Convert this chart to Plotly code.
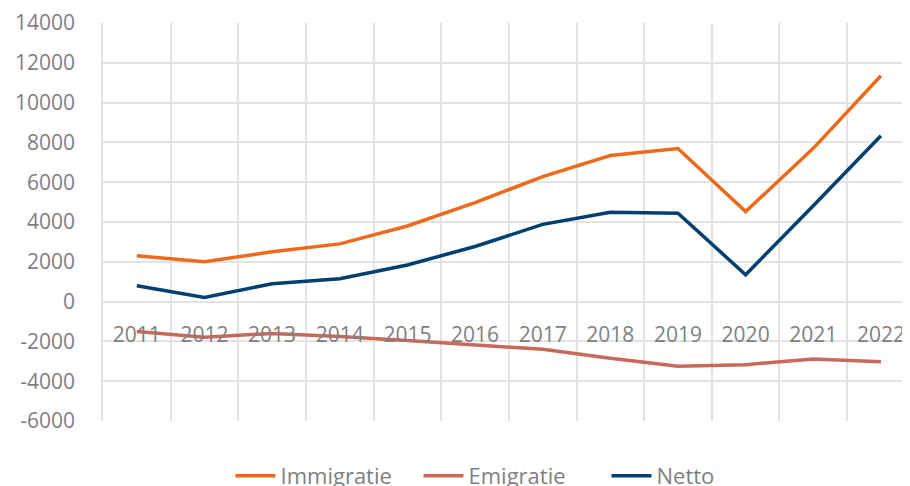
import plotly.graph_objects as go

years = ['2011', '2012', '2013', '2014', '2015', '2016',
         '2017', '2018', '2019', '2020', '2021', '2022']
immigratie = [2300, 2000, 2500, 2900, 3800, 4970, 6280, 7340, 7690, 4520, 7700, 11350]
emigratie = [-1500, -1790, -1600, -1750, -1960, -2200, -2400, -2850, -3250, -3170, -2880, -3020]
netto = [800, 210, 900, 1150, 1840, 2770, 3880, 4490, 4440, 1350, 4820, 8330]

y_ticks = [-6000, -4000, -2000, 0, 2000, 4000, 6000, 8000, 10000, 12000, 14000]
y_labels = ['-6000', '-4000', '-2000', '0', '2000', '4000', '6000', '8000', '10000', '12000', '14000']

series = [
    ('Immigratie', immigratie, '#ED6A1A'),
    ('Emigratie', emigratie, '#C8695C'),
    ('Netto', netto, '#003F6E'),
]

fig = go.Figure()
for name, vals, color in series:
    fig.add_trace(
        go.Scatter(
            x=years,
            y=vals,
            mode='lines',
            name=name,
            line=dict(color=color, width=3.5)
        )
    )

# page body adds ~8px offset, so the figure is sized to fit the window
grid = '#E3E3E3'
fig.update_layout(
    width=902,
    height=478,
    plot_bgcolor='white',
    paper_bgcolor='white',
    font=dict(family='Open Sans', color='#7F7F7F', size=20),
    margin=dict(l=95, r=0, t=15, b=65, autoexpand=False),
    showlegend=True,
    legend=dict(
        orientation='h',
        x=0.158, xanchor='left',
        y=-0.085, yanchor='top',
        font=dict(size=22, color='#7F7F7F'),
        itemwidth=40,
        entrywidth=133,
        entrywidthmode='pixels',
    ),
    xaxis=dict(
        type='category',
        range=[-0.5, 11.43],
        tickson='boundaries',
        showgrid=True,
        gridcolor=grid,
        gridwidth=1.5,
        ticks='',
        showline=False,
        zeroline=False,
        anchor='free',
        position=0.3,
        automargin=False,
        tickfont=dict(size=21, color='#7F7F7F'),
        ticklabelstandoff=18,
    ),
    yaxis=dict(
        range=[-6000, 14000],
        tickvals=y_ticks,
        ticktext=y_labels,
        showgrid=True,
        gridcolor=grid,
        gridwidth=1.5,
        zeroline=False,
        showline=True,
        linecolor=grid,
        linewidth=1.5,
        ticks='',
        automargin=False,
        tickfont=dict(size=21, color='#7F7F7F'),
        ticklabelstandoff=22,
    ),
)

fig.write_html("out.html")
